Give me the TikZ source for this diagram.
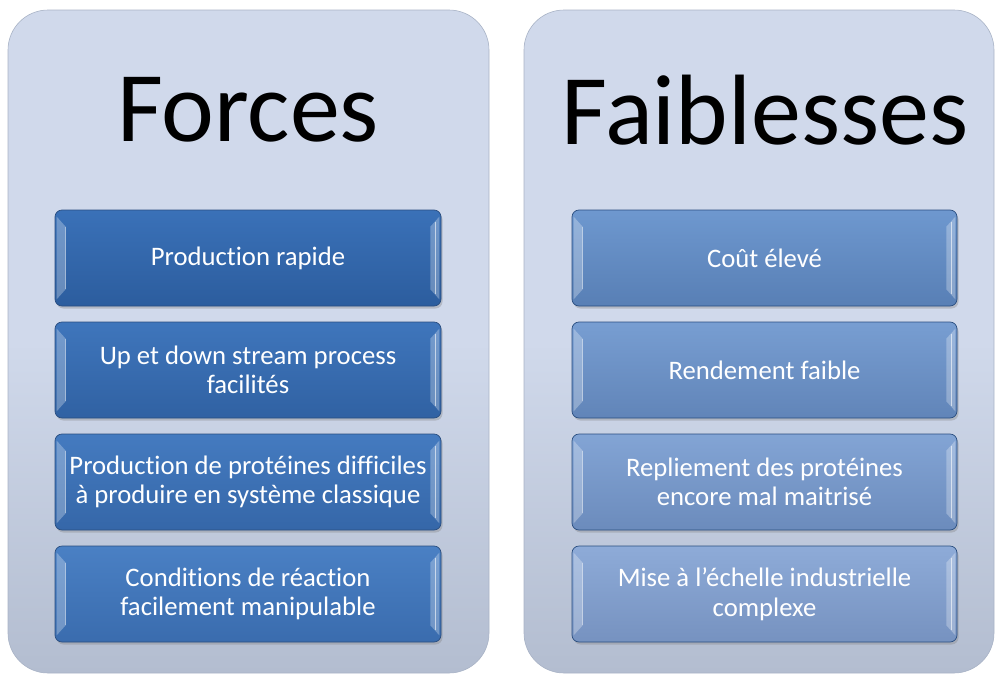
\documentclass[tikz,border=0pt]{standalone}
\usepackage{fontspec}
\setmainfont{Carlito}[Ligatures={NoCommon}]
\usetikzlibrary{shadows,calc}
\definecolor{panelTop}{HTML}{D0D9EB}
\definecolor{panelBot}{HTML}{B3BDD0}
\definecolor{panelEdge}{HTML}{A9B3C6}
\definecolor{lA}{HTML}{3A71B8}
\definecolor{lAb}{HTML}{2C5D9E}
\definecolor{lD}{HTML}{4A80C4}
\definecolor{lDb}{HTML}{3A6CAE}
\definecolor{rA}{HTML}{6E98CF}
\definecolor{rAb}{HTML}{587FB5}
\definecolor{rD}{HTML}{8EABD8}
\definecolor{rDb}{HTML}{7692C0}
\definecolor{boxEdge}{HTML}{2A4E80}
\begin{document}
\begin{tikzpicture}[x=1pt,y=-1pt]
\useasboundingbox (0,0) rectangle (997,675);
\tikzset{
  panel/.style={rounded corners=40pt, draw=panelEdge, line width=0.6pt,
    top color=panelTop, bottom color=panelBot, middle color=panelTop,
    minimum height=663pt, inner sep=0pt},
  ttl/.style={font=\fontsize{100}{100}\selectfont, text=black, inner sep=0pt},
  itembox/.style 2 args={rounded corners=7pt, draw=boxEdge, line width=0.7pt,
    top color=#1, bottom color=#2,
    drop shadow={opacity=0.35, shadow xshift=1.5pt, shadow yshift=-2.5pt},
    minimum height=96pt, text=white, align=center, inner sep=0pt,
    font=\fontsize{26.7}{29.5}\selectfont},
  bev/.style={fill=white, fill opacity=0.28, draw=none}
}
% panels
\node[panel, minimum width=481pt] (pl) at (248.5,341.5) {};
\node[panel, minimum width=470pt] (pr) at (759,341.5) {};
% titles
\node[ttl] (tl) at (248,110) {Forces};
\node[ttl] (tr) at (765,110) {Faiblesses};
% left boxes
\node[itembox={lA}{lAb}, minimum width=386pt] (l1) at (248,258) {Production rapide};
\node[itembox={lA!70!lD}{lAb!70!lDb}, minimum width=386pt] (l2) at (248,370) {Up et down stream process\\facilités};
\node[itembox={lA!35!lD}{lAb!35!lDb}, minimum width=386pt] (l3) at (248,482) {Production de protéines difficiles\\à produire en système classique};
\node[itembox={lD}{lDb}, minimum width=386pt] (l4) at (248,594) {Conditions de réaction\\facilement manipulable};
% right boxes
\node[itembox={rA}{rAb}, minimum width=385pt] (r1) at (764.5,258) {Coût élevé};
\node[itembox={rA!70!rD}{rAb!70!rDb}, minimum width=385pt] (r2) at (764.5,370) {Rendement faible};
\node[itembox={rA!35!rD}{rAb!35!rDb}, minimum width=385pt] (r3) at (764.5,482) {Repliement des protéines\\encore mal maitrisé};
\node[itembox={rD}{rDb}, minimum width=385pt] (r4) at (764.5,594) {Mise à l’échelle industrielle\\complexe};
% bevels
\foreach \b in {l1,l2,l3,l4,r1,r2,r3,r4}{
  \fill[bev] ($(\b.north west)+(2,7)$) -- ($(\b.north west)+(11,17)$) -- ($(\b.south west)+(11,-17)$) -- ($(\b.south west)+(2,-7)$) -- cycle;
  \fill[bev] ($(\b.north east)+(-2,7)$) -- ($(\b.north east)+(-11,17)$) -- ($(\b.south east)+(-11,-17)$) -- ($(\b.south east)+(-2,-7)$) -- cycle;
  \draw[white, opacity=0.45, line width=1pt] ($(\b.north west)+(11,17)$) -- ($(\b.south west)+(11,-17)$);
  \draw[white, opacity=0.6, line width=1.2pt] ($(\b.north east)+(-6,12)$) -- ($(\b.south east)+(-6,-12)$);
}
\end{tikzpicture}
\end{document}
